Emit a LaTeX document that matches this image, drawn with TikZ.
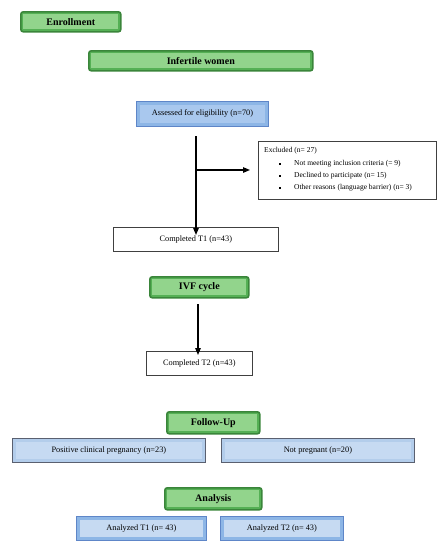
\documentclass[tikz,border=0pt]{standalone}
\usepackage{fontspec}
\setmainfont{Liberation Serif}
\usetikzlibrary{arrows.meta,calc}
\definecolor{gborder}{HTML}{3A853A}
\definecolor{gfill}{HTML}{55B055}
\definecolor{ginner}{HTML}{92D48C}
\definecolor{bfillA}{HTML}{8DB6E6}
\definecolor{binnerA}{HTML}{A9C8EE}
\definecolor{bborderA}{HTML}{5E86C8}
\definecolor{bfill}{HTML}{B3CDEB}
\definecolor{binner}{HTML}{C6DAF2}
\definecolor{bborder}{HTML}{5A6070}
\tikzset{
  gbox/.style={draw=gborder, line width=1.6pt, fill=gfill, rounded corners=2.5pt, inner sep=0pt},
  gtext/.style={font=\fontsize{10}{12}\selectfont\bfseries},
  btext/.style={font=\fontsize{8.3}{10}\selectfont},
  wbox/.style={draw=black!75, line width=0.6pt, fill=white, inner sep=0pt, font=\fontsize{8.3}{10}\selectfont},
  bboxA/.style={draw=bborderA, line width=0.9pt, fill=bfillA, inner sep=0pt},
  bbox/.style={draw=bborder, line width=0.8pt, fill=bfill, inner sep=0pt},
  arr/.style={-{Triangle[length=7pt,width=5.5pt]}, line width=1.2pt, black},
  exctext/.style={font=\fontsize{7.5}{9}\selectfont, inner sep=0pt},
}
\newcommand{\gbx}[5]{% name, x1,y1,x2,y2
  \node[gbox, minimum width={#4-#2}, minimum height={#5-#3}, anchor=north west] (#1) at (#2,#3) {};
  \fill[ginner] ($(#1.north west)+(3.2pt,-3.2pt)$) rectangle ($(#1.south east)+(-3.2pt,3.2pt)$);
}
\begin{document}
\begin{tikzpicture}[x=1pt,y=-1pt]
\useasboundingbox (0,0) rectangle (443,550);
% green headers
\gbx{enr}{20}{11}{120}{31}
\node[gtext] at (enr.center) {Enrollment};
\gbx{inf}{88}{50}{312}{70}
\node[gtext] at (inf.center) {Infertile women};
\gbx{ivf}{149}{276}{248}{297}
\node[gtext] at (ivf.center) {IVF cycle};
\gbx{fol}{166}{411}{259}{433}
\node[gtext] at (fol.center) {Follow-Up};
\gbx{ana}{164}{487}{261}{509}
\node[gtext] at (ana.center) {Analysis};
% assessed
\node[bboxA, minimum width=132pt, minimum height=25pt, anchor=north west] (ass) at (136,101) {};
\fill[binnerA] ($(ass.north west)+(4pt,-4pt)$) rectangle ($(ass.south east)+(-4pt,4pt)$);
\node[btext] at (ass.center) {Assessed for eligibility (n=70)};
% excluded
\node[wbox, minimum width=178pt, minimum height=58pt, anchor=north west] (exc) at (258,141) {};
\node[exctext, anchor=west] at (264,151) {Excluded (n= 27)};
\foreach \yy/\tt in {164/{Not meeting inclusion criteria (= 9)},176/{Declined to participate (n= 15)},188/{Other reasons (language barrier) (n= 3)}}{
  \node[exctext, anchor=west] at (294,\yy) {\tt};
  \fill (279.1,\yy-0.9) rectangle (280.9,\yy+0.9);
}
% completed T1
\node[wbox, minimum width=165pt, minimum height=24pt, anchor=north west] (t1) at (113,227) {Completed T1 (n=43)};
\coordinate (top) at (196,136);
\coordinate (br) at (196,170);
\draw[line width=1.2pt] (top) -- (br);
\draw[arr] (br) -- ($(exc.west |- br)+(-8pt,0)$);
\draw[arr] (br) -- ($(t1.north -| br)+(0,-8pt)$);
% completed T2
\node[wbox, minimum width=106pt, minimum height=24pt, anchor=north west] (t2) at (146,351) {Completed T2 (n=43)};
\coordinate (ivfb) at (198,304);
\draw[arr] (ivfb) -- ($(t2.north -| ivfb)+(0,-4pt)$);
% follow-up boxes
\node[bbox, minimum width=193pt, minimum height=24pt, anchor=north west] (pos) at (12,438) {};
\fill[binner] ($(pos.north west)+(4pt,-4pt)$) rectangle ($(pos.south east)+(-4pt,4pt)$);
\node[btext] at (pos.center) {Positive clinical pregnancy (n=23)};
\node[bbox, minimum width=193pt, minimum height=24pt, anchor=north west] (np) at (221,438) {};
\fill[binner] ($(np.north west)+(4pt,-4pt)$) rectangle ($(np.south east)+(-4pt,4pt)$);
\node[btext] at (np.center) {Not pregnant (n=20)};
% analysis boxes
\node[bboxA, minimum width=130pt, minimum height=24pt, anchor=north west] (a1) at (76,516) {};
\fill[binner] ($(a1.north west)+(4pt,-4pt)$) rectangle ($(a1.south east)+(-4pt,4pt)$);
\node[btext] at (a1.center) {Analyzed T1 (n= 43)};
\node[bboxA, minimum width=123pt, minimum height=24pt, anchor=north west] (a2) at (220,516) {};
\fill[binner] ($(a2.north west)+(4pt,-4pt)$) rectangle ($(a2.south east)+(-4pt,4pt)$);
\node[btext] at (a2.center) {Analyzed T2 (n= 43)};
\end{tikzpicture}
\end{document}
